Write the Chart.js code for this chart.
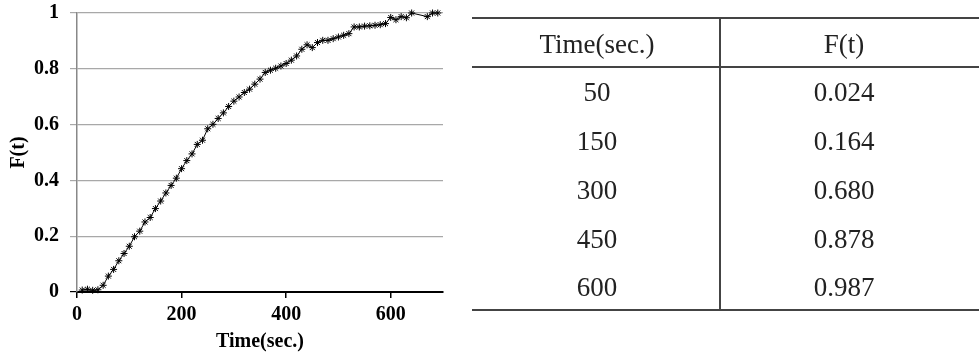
<!DOCTYPE html>
<html>
<head>
<meta charset="utf-8">
<script src="https://cdn.jsdelivr.net/npm/chart.js@4/dist/chart.umd.min.js"></script>
<style>
  html, body { margin: 0; padding: 0; background: #fff; }
  body { width: 979px; height: 354px; position: relative; overflow: hidden; }
  #plot { position: absolute; left: 0; top: 0; width: 450px; height: 354px; }
  #tabla { position: absolute; left: 0; top: 0; width: 979px; height: 354px; }
  .linea { position: absolute; background: #444; }
  .celda {
    position: absolute; width: 240px; height: 34px; line-height: 34px;
    text-align: center; font-family: "Liberation Serif", serif; font-size: 27px; color: #222;
  }
</style>
</head>
<body>
<div id="plot"><canvas id="grafico"></canvas></div>
<div id="tabla"></div>
<script>
// --- datos de la curva F(t) ---
const tiempos = [10, 20, 30, 40, 50, 60, 70, 80, 90, 100,
  110, 120, 130, 140, 150, 160, 170, 180, 190, 200,
  210, 220, 230, 240, 250, 260, 270, 280, 290, 300,
  310, 320, 330, 340, 350, 360, 370, 380, 390, 400,
  410, 420, 430, 440, 450, 460, 470, 480, 490, 500,
  510, 520, 530, 540, 550, 560, 570, 580, 590, 600,
  610, 620, 630, 640, 670, 680, 690];
const valoresF = [0.007, 0.010, 0.006, 0.008, 0.024, 0.057, 0.081, 0.112, 0.138, 0.164,
  0.198, 0.218, 0.251, 0.267, 0.299, 0.326, 0.355, 0.382, 0.408, 0.442,
  0.471, 0.495, 0.529, 0.544, 0.585, 0.601, 0.622, 0.642, 0.665, 0.684,
  0.699, 0.715, 0.727, 0.745, 0.763, 0.787, 0.795, 0.802, 0.810, 0.819,
  0.831, 0.846, 0.870, 0.886, 0.876, 0.894, 0.902, 0.902, 0.908, 0.914,
  0.920, 0.926, 0.950, 0.950, 0.953, 0.954, 0.956, 0.958, 0.962, 0.984,
  0.976, 0.987, 0.983, 1.000, 0.987, 1.000, 1.000];
const ticksX = [0, 200, 400, 600];
const ticksY = [0, 0.2, 0.4, 0.6, 0.8, 1];

// --- datos de la tabla ---
const encabezados = ['Time(sec.)', 'F(t)'];
const tablaTiempos = ['50', '150', '300', '450', '600'];
const tablaF = ['0.024', '0.164', '0.680', '0.878', '0.987'];

// --- grafico ---
const fuenteEje = { family: 'Liberation Serif', size: 20, weight: 'bold' };

new Chart(document.getElementById('grafico'), {
  type: 'line',
  data: {
    datasets: [{
      data: tiempos.map((t, i) => ({ x: t, y: valoresF[i] })),
      borderColor: '#000',
      borderWidth: 1,
      pointStyle: 'star',
      pointRadius: 3.5,
      pointBorderColor: '#000',
      pointBorderWidth: 1,
      tension: 0,
      clip: false
    }]
  },
  options: {
    responsive: true,
    maintainAspectRatio: false,
    animation: false,
    layout: { padding: { left: 0, right: 7, top: 13, bottom: 0 } },
    plugins: { legend: { display: false }, tooltip: { enabled: false } },
    scales: {
      x: {
        type: 'linear',
        min: 0, max: 700,
        afterBuildTicks: s => { s.ticks = ticksX.map(v => ({ value: v })); },
        afterFit: s => { s.height = 62; s.paddingLeft = 0; s.paddingRight = 0; },
        border: { color: '#000', width: 2 },
        grid: { drawOnChartArea: false, drawTicks: true, tickLength: 6, color: '#000', lineWidth: 1.5 },
        ticks: { color: '#000', font: fuenteEje, padding: 5, maxRotation: 0 },
        title: { display: true, text: 'Time(sec.)', color: '#000', font: fuenteEje, padding: { top: 0, bottom: 0 } }
      },
      y: {
        min: 0, max: 1,
        afterBuildTicks: s => { s.ticks = ticksY.map(v => ({ value: v })); },
        afterFit: s => { s.width = 77; s.paddingTop = 0; s.paddingBottom = 0; },
        border: { color: '#888', width: 1.5 },
        grid: {
          color: c => (c.tick && c.tick.value === 0 ? '#000' : '#a8a8a8'),
          lineWidth: 1.2,
          tickLength: 7
        },
        ticks: { color: '#000', font: fuenteEje, padding: 11, callback: v => String(v) },
        title: { display: true, text: 'F(t)', color: '#000', font: fuenteEje, padding: { top: 7, bottom: 0 } }
      }
    }
  }
});

// --- tabla ---
const tabla = document.getElementById('tabla');
function linea(x, y, w, h) {
  const d = document.createElement('div');
  d.className = 'linea';
  Object.assign(d.style, { left: x + 'px', top: y + 'px', width: w + 'px', height: h + 'px' });
  tabla.appendChild(d);
}
function celda(texto, cx, cy) {
  const d = document.createElement('div');
  d.className = 'celda';
  d.textContent = texto;
  d.style.left = (cx - 120) + 'px';
  d.style.top = (cy - 17) + 'px';
  tabla.appendChild(d);
}
linea(472, 17, 507, 2);
linea(472, 66, 507, 2);
linea(472, 309, 507, 2);
linea(719, 17, 2, 293);

celda(encabezados[0], 597, 44);
celda(encabezados[1], 844, 44);
const filasY = [92, 141, 190, 239, 287];
tablaTiempos.forEach((t, i) => {
  celda(t, 597, filasY[i]);
  celda(tablaF[i], 844, filasY[i]);
});
</script>
</body>
</html>
